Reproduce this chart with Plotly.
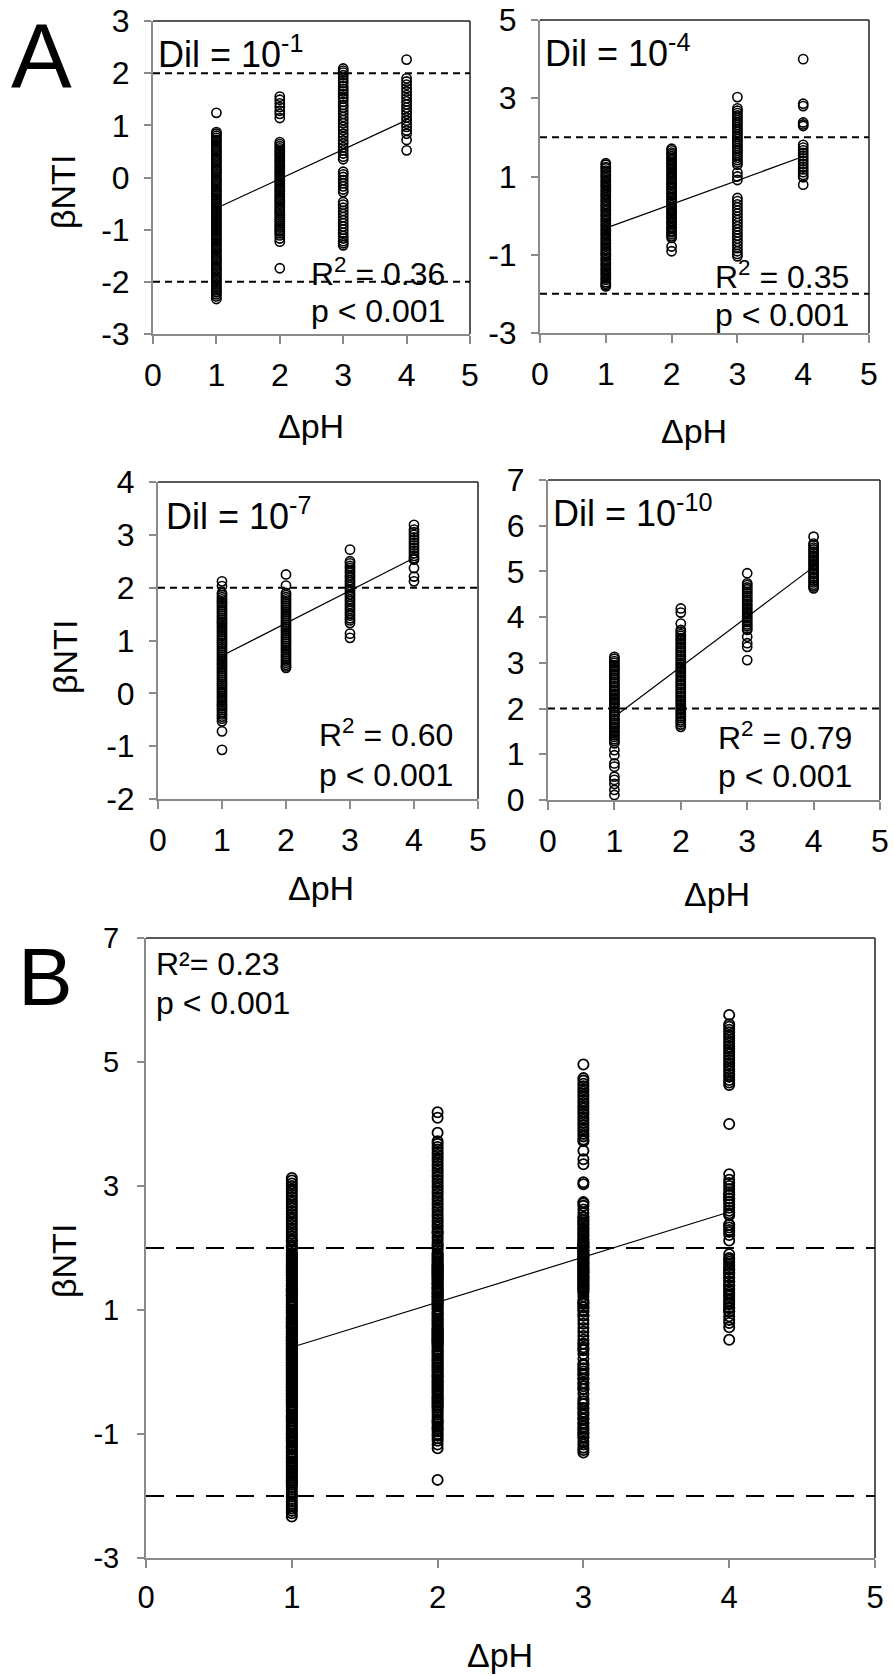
import plotly.graph_objects as go

# ---------------- data ----------------
ph_levels = [1, 2, 3, 4]
x_ticks = [0, 1, 2, 3, 4, 5]

# Dil = 10^-1
a1_ph1 = [1.24, 0.87, 0.84, 0.80, 0.76, 0.72, 0.69, 0.65, 0.61, 0.57, 0.53, 0.50, 0.46, 0.42, 0.38, 0.34,
          0.31, 0.27, 0.23, 0.19, 0.15, 0.12, 0.08, 0.04, 0.00, -0.04, -0.07, -0.11, -0.15, -0.19, -0.23,
          -0.26, -0.30, -0.34, -0.38, -0.42, -0.45, -0.49, -0.53, -0.57, -0.61, -0.64, -0.68, -0.72, -0.76,
          -0.80, -0.83, -0.87, -0.91, -0.95, -0.99, -1.02, -1.06, -1.10, -1.14, -1.18, -1.21, -1.25, -1.29,
          -1.33, -1.37, -1.40, -1.44, -1.48, -1.52, -1.56, -1.59, -1.63, -1.67, -1.71, -1.75, -1.78, -1.82,
          -1.86, -1.90, -1.94, -1.97, -2.01, -2.05, -2.09, -2.13, -2.16, -2.20, -2.24, -2.28, -2.33]
a1_ph2 = [1.55, 1.49, 1.42, 1.35, 1.28, 1.22, 1.14, 0.68, 0.64, 0.60, 0.56, 0.52, 0.49, 0.45, 0.41, 0.37,
          0.33, 0.30, 0.26, 0.22, 0.18, 0.14, 0.11, 0.07, 0.03, -0.01, -0.05, -0.08, -0.12, -0.16, -0.20,
          -0.24, -0.27, -0.31, -0.35, -0.39, -0.43, -0.46, -0.50, -0.54, -0.58, -0.62, -0.65, -0.69, -0.73,
          -0.77, -0.81, -0.84, -0.88, -0.92, -0.96, -1.00, -1.03, -1.07, -1.11, -1.17, -1.23, -1.74]
a1_ph3 = [2.09, 2.05, 2.01, 1.96, 1.91, 1.86, 1.81, 1.75, 1.70, 1.65, 1.60, 1.55, 1.51, 1.45, 1.39, 1.34,
          1.28, 1.22, 1.16, 1.10, 1.04, 0.97, 0.91, 0.84, 0.78, 0.71, 0.65, 0.58, 0.52, 0.46, 0.40, 0.35,
          0.11, 0.06, 0.01, -0.05, -0.11, -0.17, -0.23, -0.28, -0.47, -0.52, -0.58, -0.64, -0.70, -0.76,
          -0.82, -0.88, -0.94, -1.00, -1.06, -1.12, -1.17, -1.22, -1.26, -1.30]
a1_ph4 = [2.26, 1.90, 1.84, 1.78, 1.71, 1.65, 1.58, 1.52, 1.46, 1.40, 1.34, 1.28, 1.22, 1.15, 1.09, 1.03,
          0.97, 0.90, 0.84, 0.72, 0.52]
a1_fit = [-0.59, 1.10]

# Dil = 10^-4
a2_ph1 = [1.34, 1.30, 1.24, 1.21, 1.15, 1.11, 1.05, 1.01, 0.96, 0.90, 0.86, 0.80, 0.76, 0.71, 0.65, 0.61,
          0.55, 0.51, 0.46, 0.40, 0.36, 0.30, 0.26, 0.21, 0.15, 0.11, 0.05, 0.01, -0.04, -0.10, -0.14, -0.20,
          -0.24, -0.29, -0.35, -0.39, -0.45, -0.49, -0.54, -0.60, -0.64, -0.70, -0.74, -0.79, -0.85, -0.89,
          -0.95, -0.99, -1.04, -1.10, -1.14, -1.20, -1.24, -1.29, -1.35, -1.39, -1.45, -1.49, -1.54, -1.60,
          -1.64, -1.70, -1.74, -1.78, -1.81]
a2_ph2 = [1.71, 1.67, 1.61, 1.57, 1.52, 1.46, 1.42, 1.36, 1.32, 1.27, 1.21, 1.17, 1.11, 1.07, 1.02, 0.96,
          0.92, 0.86, 0.82, 0.77, 0.71, 0.67, 0.61, 0.57, 0.52, 0.46, 0.42, 0.36, 0.32, 0.27, 0.21, 0.17,
          0.11, 0.07, 0.02, -0.04, -0.08, -0.14, -0.18, -0.23, -0.29, -0.33, -0.39, -0.43, -0.48, -0.53,
          -0.57, -0.79, -0.91]
a2_ph3 = [3.03, 2.74, 2.68, 2.62, 2.56, 2.50, 2.44, 2.38, 2.32, 2.26, 2.20, 2.14, 2.08, 2.02, 1.96, 1.90,
          1.84, 1.78, 1.72, 1.66, 1.60, 1.54, 1.48, 1.42, 1.36, 1.30, 1.10, 1.00, 0.91, 0.45, 0.37, 0.29,
          0.21, 0.13, 0.05, -0.03, -0.11, -0.19, -0.27, -0.35, -0.43, -0.51, -0.59, -0.67, -0.75, -0.83,
          -0.91, -0.98, -1.04]
a2_ph4 = [4.00, 2.86, 2.80, 2.38, 2.33, 2.29, 1.81, 1.74, 1.67, 1.60, 1.53, 1.46, 1.39, 1.32, 1.25, 1.18,
          1.11, 1.04, 0.98, 0.79]
a2_fit = [-0.32, 1.51]

# Dil = 10^-7
a3_ph1 = [2.12, 2.03, 1.90, 1.86, 1.82, 1.78, 1.74, 1.71, 1.67, 1.63, 1.59, 1.55, 1.51, 1.47, 1.43, 1.39,
          1.35, 1.32, 1.28, 1.24, 1.20, 1.16, 1.12, 1.08, 1.04, 1.00, 0.96, 0.93, 0.89, 0.85, 0.81, 0.77,
          0.73, 0.69, 0.65, 0.61, 0.57, 0.54, 0.50, 0.46, 0.42, 0.38, 0.34, 0.30, 0.26, 0.22, 0.18, 0.15,
          0.11, 0.07, 0.03, -0.01, -0.05, -0.09, -0.13, -0.17, -0.21, -0.24, -0.28, -0.32, -0.36, -0.40,
          -0.44, -0.48, -0.53, -0.72, -1.07]
a3_ph2 = [2.25, 2.04, 1.90, 1.86, 1.82, 1.78, 1.74, 1.70, 1.66, 1.62, 1.58, 1.54, 1.50, 1.46, 1.42, 1.38,
          1.34, 1.30, 1.26, 1.22, 1.18, 1.14, 1.10, 1.06, 1.02, 0.98, 0.94, 0.90, 0.86, 0.82, 0.78, 0.74,
          0.70, 0.66, 0.62, 0.58, 0.54, 0.51, 0.48]
a3_ph3 = [2.72, 2.50, 2.46, 2.41, 2.37, 2.32, 2.28, 2.23, 2.19, 2.14, 2.10, 2.05, 2.01, 1.96, 1.92, 1.87,
          1.83, 1.78, 1.74, 1.69, 1.65, 1.60, 1.56, 1.51, 1.47, 1.42, 1.38, 1.33, 1.13, 1.05]
a3_ph4 = [3.19, 3.10, 3.05, 3.00, 2.95, 2.90, 2.85, 2.80, 2.75, 2.70, 2.65, 2.60, 2.56, 2.53, 2.37, 2.21,
          2.12]
a3_fit = [0.71, 2.56]

# Dil = 10^-10
a4_ph1 = [3.13, 3.09, 3.04, 3.00, 2.95, 2.91, 2.86, 2.82, 2.77, 2.73, 2.68, 2.64, 2.59, 2.55, 2.50, 2.46,
          2.41, 2.37, 2.32, 2.28, 2.23, 2.19, 2.14, 2.10, 2.05, 2.01, 1.96, 1.92, 1.87, 1.83, 1.78, 1.74,
          1.69, 1.65, 1.60, 1.56, 1.51, 1.47, 1.42, 1.38, 1.33, 1.29, 1.24, 1.09, 0.98, 0.80, 0.73, 0.51,
          0.44, 0.35, 0.22, 0.11]
a4_ph2 = [4.19, 4.10, 3.86, 3.72, 3.68, 3.63, 3.59, 3.54, 3.50, 3.45, 3.41, 3.36, 3.32, 3.27, 3.23, 3.18,
          3.14, 3.09, 3.05, 3.00, 2.96, 2.91, 2.87, 2.82, 2.78, 2.73, 2.69, 2.64, 2.60, 2.55, 2.51, 2.46,
          2.42, 2.37, 2.33, 2.28, 2.24, 2.19, 2.15, 2.10, 2.06, 2.01, 1.97, 1.92, 1.88, 1.83, 1.79, 1.74,
          1.70, 1.65, 1.60]
a4_ph3 = [4.96, 4.74, 4.70, 4.65, 4.61, 4.56, 4.52, 4.47, 4.43, 4.38, 4.34, 4.29, 4.25, 4.20, 4.16, 4.11,
          4.07, 4.02, 3.98, 3.93, 3.89, 3.84, 3.80, 3.75, 3.72, 3.57, 3.43, 3.35, 3.06]
a4_ph4 = [5.76, 5.61, 5.57, 5.52, 5.48, 5.43, 5.39, 5.34, 5.30, 5.25, 5.21, 5.16, 5.12, 5.07, 5.03, 4.98,
          4.94, 4.89, 4.85, 4.80, 4.76, 4.71, 4.67, 4.63]
a4_fit = [1.82, 5.10]

# B: all dilutions pooled
b_fit = [0.40, 2.58]

dil_labels = ["Dil = 10<sup>-1</sup>", "Dil = 10<sup>-4</sup>", "Dil = 10<sup>-7</sup>", "Dil = 10<sup>-10</sup>"]
r2_labels = ["R<sup>2</sup> = 0.36", "R<sup>2</sup> = 0.35", "R<sup>2</sup> = 0.60", "R<sup>2</sup> = 0.79"]
b_r2_label = "R²= 0.23"
p_label = "p &lt; 0.001"
thresholds = [2, -2]

# ---------------- layout helpers ----------------
W, H = 894, 1676
FONT = "Liberation Sans, Arial, sans-serif"


def PX(x):
    return x / W


def PY(y):
    return 1 - y / H


panels = [
    dict(cols=[a1_ph1, a1_ph2, a1_ph3, a1_ph4], fit=a1_fit, box=(153, 470, 21, 334),
         yr=[-3, 3], yt=[-3, -2, -1, 0, 1, 2, 3], dil=dil_labels[0], r2=r2_labels[0]),
    dict(cols=[a2_ph1, a2_ph2, a2_ph3, a2_ph4], fit=a2_fit, box=(540, 869, 20, 333),
         yr=[-3, 5], yt=[-3, -1, 1, 3, 5], dil=dil_labels[1], r2=r2_labels[1]),
    dict(cols=[a3_ph1, a3_ph2, a3_ph3, a3_ph4], fit=a3_fit, box=(158, 478, 482, 799),
         yr=[-2, 4], yt=[-2, -1, 0, 1, 2, 3, 4], dil=dil_labels[2], r2=r2_labels[2]),
    dict(cols=[a4_ph1, a4_ph2, a4_ph3, a4_ph4], fit=a4_fit, box=(548, 880, 480, 800),
         yr=[0, 7], yt=[0, 1, 2, 3, 4, 5, 6, 7], dil=dil_labels[3], r2=r2_labels[3]),
]
pooled = [a1_ph1 + a2_ph1 + a3_ph1 + a4_ph1,
          a1_ph2 + a2_ph2 + a3_ph2 + a4_ph2,
          a1_ph3 + a2_ph3 + a3_ph3 + a4_ph3,
          a1_ph4 + a2_ph4 + a3_ph4 + a4_ph4]
panels.append(dict(cols=pooled, fit=b_fit, box=(146, 875, 938, 1558),
                   yr=[-3, 7], yt=[-3, -1, 1, 3, 5, 7], dil=None, r2=None))

fig = go.Figure()
layout = dict(width=W, height=H, margin=dict(l=0, r=0, t=0, b=0, pad=0, autoexpand=False),
              showlegend=False, paper_bgcolor="white", plot_bgcolor="white",
              font=dict(family=FONT, color="black"))
shapes = []
annotations = []
AX_GRAY = "#8a8a8a"

for i, p in enumerate(panels):
    n = i + 1
    xa = "x" if n == 1 else f"x{n}"
    ya = "y" if n == 1 else f"y{n}"
    isB = n == 5
    xs, ys = [], []
    for lvl, col in zip(ph_levels, p["cols"]):
        xs += [lvl] * len(col)
        ys += col
    fig.add_trace(go.Scatter(x=xs, y=ys, mode="markers", xaxis=xa, yaxis=ya,
                             marker=dict(symbol="circle-open", size=9.2 if not isB else 10.2,
                                         color="black",
                                         line=dict(width=1.6 if not isB else 1.8, color="black"))))
    fig.add_trace(go.Scatter(x=[ph_levels[0], ph_levels[-1]], y=p["fit"], mode="lines",
                             xaxis=xa, yaxis=ya, line=dict(color="black", width=1.2)))
    x0, x1, y0, y1 = p["box"]
    layout["xaxis" if n == 1 else f"xaxis{n}"] = dict(
        domain=[PX(x0), PX(x1)], range=[0, 5], tickvals=x_ticks,
        ticktext=[str(v) for v in x_ticks], anchor=ya, automargin=False,
        showline=True, linecolor=AX_GRAY, linewidth=2, ticks="outside", ticklen=8,
        tickwidth=2, tickcolor=AX_GRAY, showgrid=False, zeroline=False,
        tickfont=dict(family=FONT, size=32 if not isB else 31, color="black"),
        ticklabelstandoff=4 if not isB else 3)
    layout["yaxis" if n == 1 else f"yaxis{n}"] = dict(
        domain=[PY(y1), PY(y0)], range=p["yr"], tickvals=p["yt"],
        ticktext=[str(v) for v in p["yt"]], anchor=xa, automargin=False,
        showline=True, linecolor=AX_GRAY, linewidth=2, ticks="outside", ticklen=7,
        tickwidth=2, tickcolor=AX_GRAY, showgrid=False, zeroline=False,
        tickfont=dict(family=FONT, size=32 if not isB else 29, color="black"),
        ticklabelstandoff=8 if not isB else 12)
    # top/right frame
    xd, yd = f"{xa} domain", f"{ya} domain"
    shapes.append(dict(type="line", xref=xd, yref=yd, x0=0, x1=1, y0=1, y1=1,
                       line=dict(color="#222222", width=1.5)))
    shapes.append(dict(type="line", xref=xd, yref=yd, x0=1, x1=1, y0=0, y1=1,
                       line=dict(color="#222222", width=1.5)))
    # thresholds
    for t in thresholds:
        if p["yr"][0] < t < p["yr"][1]:
            shapes.append(dict(type="line", xref=xa, yref=ya, x0=0, x1=5, y0=t, y1=t,
                               line=dict(color="black", width=2 if not isB else 2.2,
                                         dash="7px,5px" if not isB else "18px,12px")))

# panel texts
dil_pos = [(156, 52), (543, 51), (164, 514), (551, 511)]
r2_pos = [(447, 272, 311), (851, 275, 315), (455, 733, 775), (854, 736, 776)]
for i in range(4):
    x, y = dil_pos[i]
    annotations.append(dict(text=panels[i]["dil"], x=PX(x), y=PY(y), xref="paper", yref="paper",
                            xanchor="left", yanchor="middle", showarrow=False,
                            font=dict(family=FONT, size=36, color="black")))
    xr, yr2, yp = r2_pos[i]
    annotations.append(dict(text=panels[i]["r2"], x=PX(xr), y=PY(yr2), xref="paper", yref="paper",
                            xanchor="right", yanchor="middle", showarrow=False,
                            font=dict(family=FONT, size=32, color="black")))
    annotations.append(dict(text=p_label, x=PX(xr), y=PY(yp), xref="paper", yref="paper",
                            xanchor="right", yanchor="middle", showarrow=False,
                            font=dict(family=FONT, size=32, color="black")))

annotations.append(dict(text=b_r2_label, x=PX(154), y=PY(964), xref="paper", yref="paper",
                        xanchor="left", yanchor="middle", showarrow=False,
                        font=dict(family=FONT, size=32, color="black")))
annotations.append(dict(text=p_label, x=PX(154), y=PY(1003), xref="paper", yref="paper",
                        xanchor="left", yanchor="middle", showarrow=False,
                        font=dict(family=FONT, size=32, color="black")))

# axis titles
for (x, y) in [(63, 192), (65, 657), (64, 1261)]:
    annotations.append(dict(text="βNTI", x=PX(x), y=PY(y), xref="paper", yref="paper",
                            xanchor="center", yanchor="middle", textangle=-90, showarrow=False,
                            font=dict(family=FONT, size=34, color="black")))
for (x, y) in [(311, 426), (694, 431), (321, 888), (717, 894), (500, 1655)]:
    annotations.append(dict(text="ΔpH", x=PX(x), y=PY(y), xref="paper", yref="paper",
                            xanchor="center", yanchor="middle", showarrow=False,
                            font=dict(family=FONT, size=34, color="black")))

# panel letters
annotations.append(dict(text="A", x=PX(41), y=PY(55), xref="paper", yref="paper",
                        xanchor="center", yanchor="middle", showarrow=False,
                        font=dict(family=FONT, size=91, color="black")))
annotations.append(dict(text="B", x=PX(45), y=PY(976), xref="paper", yref="paper",
                        xanchor="center", yanchor="middle", showarrow=False,
                        font=dict(family=FONT, size=82, color="black")))

layout["shapes"] = shapes
layout["annotations"] = annotations
fig.update_layout(**layout)
fig.write_html("out.html")
